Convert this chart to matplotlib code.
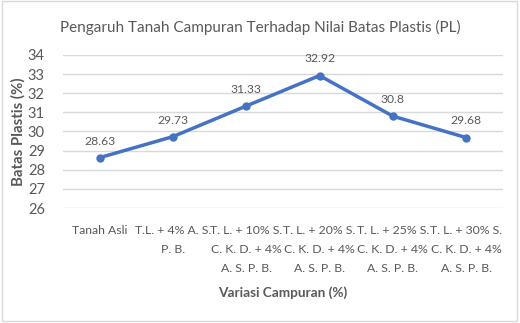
import matplotlib
matplotlib.use("Agg")
import matplotlib.pyplot as plt
from matplotlib.patches import Rectangle

categories = ["Tanah Asli",
              "T.L. + 4% A. S.\nP. B.",
              "T. L. + 10% S.\nC. K. D. + 4%\nA. S. P. B.",
              "T. L. + 20% S.\nC. K. D. + 4%\nA. S. P. B.",
              "T. L. + 25% S.\nC. K. D. + 4%\nA. S. P. B.",
              "T. L. + 30% S.\nC. K. D. + 4%\nA. S. P. B."]
values = [28.63, 29.73, 31.33, 32.92, 30.8, 29.68]
value_labels = ["28.63", "29.73", "31.33", "32.92", "30.8", "29.68"]
yticks = [26, 27, 28, 29, 30, 31, 32, 33, 34]

plt.rcParams['font.family'] = ['Lato', 'DejaVu Sans']
gray = "#595959"

fig = plt.figure(figsize=(5.2, 3.23), dpi=100)
fig.patches.append(Rectangle((0.004, 0.006), 0.99, 0.99, transform=fig.transFigure,
                             fill=False, edgecolor="#D9D9D9", linewidth=1))
ax = fig.add_axes([0.121, 0.356, 0.846, 0.474])
x = list(range(len(categories)))
ax.plot(x, values, color="#4472C4", linewidth=2.5, marker="o", markersize=5)
for xi, v, lab in zip(x, values, value_labels):
    ax.annotate(lab, (xi, v), xytext=(0, 8), textcoords="offset points",
                ha="center", va="bottom", fontsize=8.7, color=gray)
ax.set_xlim(-0.5, len(categories) - 0.5)
ax.set_ylim(26, 34)
ax.set_yticks(yticks)
ax.set_yticklabels([str(t) for t in yticks], fontsize=10.5, color=gray)
ax.set_xticks(x)
ax.set_xticklabels(categories, fontsize=8.8, color=gray, linespacing=1.9, va="top")
ax.tick_params(axis="x", length=0, pad=12)
ax.tick_params(axis="y", length=0, pad=13)
ax.grid(axis="y", color="#D9D9D9", linewidth=1)
ax.set_axisbelow(True)
for s in ax.spines.values():
    s.set_visible(False)
ax.set_ylabel("Batas Plastis (%)", fontsize=10.8, color=gray, fontweight="bold", labelpad=2)
ax.set_xlabel("Variasi Campuran (%)", fontsize=9.8, color=gray, fontweight="bold", labelpad=9)
fig.text(0.5, 0.915, "Pengaruh Tanah Campuran Terhadap Nilai Batas Plastis (PL)",
         ha="center", va="center", fontsize=11, color=gray)
fig.savefig("out.png", dpi=100)
